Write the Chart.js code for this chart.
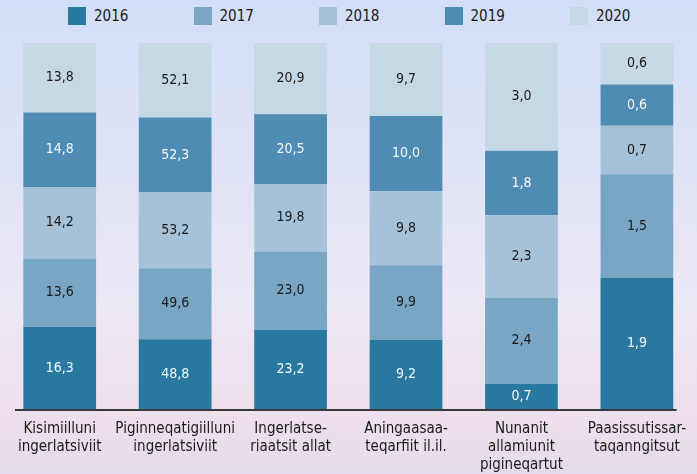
<!DOCTYPE html>
<html>
<head>
<meta charset="utf-8">
<script src="https://cdn.jsdelivr.net/npm/chart.js@4.4.0/dist/chart.umd.min.js"></script>
<style>
  html, body { margin: 0; padding: 0; }
  body {
    width: 697px; height: 474px; overflow: hidden; position: relative;
    background: linear-gradient(180deg, #d2def7 0%, #dfe3f7 35%, #ece8f4 65%, #eedfec 88%, #e4dcea 100%);
    font-family: "Open Sans", sans-serif;
  }
  #wrap { position: absolute; left: 0; top: 0; width: 697px; height: 474px; }
  #legend {
    position: absolute; top: 7px; left: 68px; display: flex; gap: 0;
    font-size: 15px; color: #1a1a1a;
  }
  #legend .item { display: flex; align-items: center; width: 125.5px; }
  #legend .sw { width: 18px; height: 18px; margin-right: 8px; }
</style>
</head>
<body>
<div id="legend"></div>
<div id="wrap"><canvas id="chart" width="697" height="474"></canvas></div>
<script>
// ================== DATA ==================
const categories = [
  ["Kisimiilluni", "ingerlatsiviit"],
  ["Piginneqatigiilluni", "ingerlatsiviit"],
  ["Ingerlatse-", "riaatsit allat"],
  ["Aningaasaa-", "teqarfiit il.il."],
  ["Nunanit", "allamiunit", "pigineqartut"],
  ["Paasissutissar-", "taqanngitsut"]
];
const years = ["2016", "2017", "2018", "2019", "2020"];
const v2016 = [16.3, 48.8, 23.2, 9.2, 0.7, 1.9];
const v2017 = [13.6, 49.6, 23.0, 9.9, 2.4, 1.5];
const v2018 = [14.2, 53.2, 19.8, 9.8, 2.3, 0.7];
const v2019 = [14.8, 52.3, 20.5, 10.0, 1.8, 0.6];
const v2020 = [13.8, 52.1, 20.9, 9.7, 3.0, 0.6];

const colors     = ["#2878a0", "#7aa6c5", "#a6c2d8", "#4f8cb3", "#c5d8e5"];
const labelColor = ["#f4f8fb", "#1a1a1a", "#1a1a1a", "#f4f8fb", "#1a1a1a"];
const FONT = '"Liberation Sans Narrow", "DejaVu Sans Condensed", sans-serif';

// ================== HELPERS ==================
const series = [v2016, v2017, v2018, v2019, v2020];
const totals = categories.map((_, i) => series.reduce((s, arr) => s + arr[i], 0));
const fmt = (n) => n.toFixed(1).replace(".", ",");

// legend (html)
document.getElementById("legend").innerHTML = years.map((y, i) =>
  `<div class="item"><span class="sw" style="background:${colors[i]}"></span><span style="font-family:${FONT.replace(/"/g, "'")}">${y}</span></div>`
).join("");

// value labels centered in each segment
const segLabels = {
  id: "segLabels",
  afterDatasetsDraw(chart) {
    const ctx = chart.ctx;
    ctx.save();
    ctx.font = `14px ${FONT}`;
    ctx.textAlign = "center";
    ctx.textBaseline = "middle";
    chart.data.datasets.forEach((ds, di) => {
      chart.getDatasetMeta(di).data.forEach((bar, i) => {
        const mid = (bar.y + bar.base) / 2;
        ctx.fillStyle = labelColor[di];
        ctx.fillText(fmt(ds.raw[i]), bar.x, mid);
      });
    });
    ctx.restore();
  }
};

// base line under the bars
const baseLine = {
  id: "baseLine",
  afterDatasetsDraw(chart) {
    const { ctx, chartArea } = chart;
    ctx.save();
    ctx.strokeStyle = "#3a3a3a";
    ctx.lineWidth = 2;
    ctx.beginPath();
    ctx.moveTo(chartArea.left + 13, chartArea.bottom + 1);
    ctx.lineTo(chartArea.right - 18, chartArea.bottom + 1);
    ctx.stroke();
    ctx.restore();
  }
};

// ================== CHART ==================
new Chart(document.getElementById("chart"), {
  type: "bar",
  data: {
    labels: categories,
    datasets: series.map((arr, di) => ({
      label: years[di],
      raw: arr,
      data: arr.map((v, i) => v / totals[i] * 100),
      backgroundColor: colors[di],
      borderWidth: 0,
      barPercentage: 0.63,
      categoryPercentage: 1
    }))
  },
  options: {
    responsive: false,
    animation: false,
    layout: { padding: { top: 43, left: 2, right: 0, bottom: -11 } },
    plugins: { legend: { display: false }, tooltip: { enabled: false } },
    scales: {
      x: {
        stacked: true,
        grid: { display: false, drawTicks: false },
        border: { display: false },
        ticks: { color: "#1a1a1a", padding: 11, maxRotation: 0, autoSkip: false,
                 font: { family: FONT, size: 15, lineHeight: 1.2 } }
      },
      y: { stacked: true, display: false, min: 0, max: 100 }
    }
  },
  plugins: [segLabels, baseLine]
});
</script>
</body>
</html>
